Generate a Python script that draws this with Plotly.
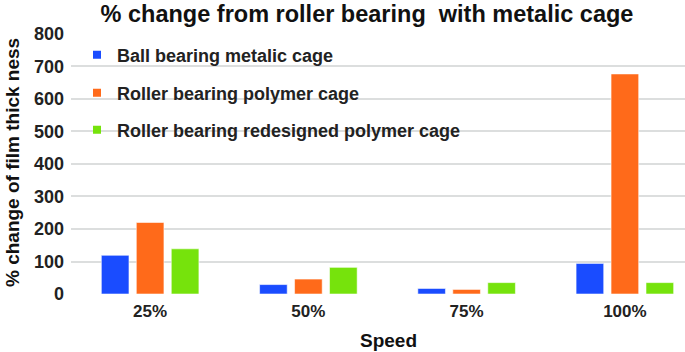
import plotly.graph_objects as go

categories = ["25%", "50%", "75%", "100%"]
ball_metal = [119, 29, 17, 94]
roller_polymer = [220, 46, 14, 677]
roller_redesigned = [139, 82, 35, 35]

series_names = [
    "Ball bearing metalic cage",
    "Roller bearing polymer cage",
    "Roller bearing redesigned polymer cage",
]
colors = ["#1a4cff", "#ff6a1a", "#76e30c"]

W, H = 685, 352
L, R, T, B = 71, 0, 33, 58
pw, ph = W - L - R, H - T - B

FONT = "Liberation Sans, Arial, sans-serif"

fig = go.Figure()
legend_ids = ["legend", "legend2", "legend3"]
for vals, name, col, lg in zip([ball_metal, roller_polymer, roller_redesigned], series_names, colors, legend_ids):
    fig.add_trace(go.Bar(
        x=categories, y=vals, name=name, showlegend=False,
        marker=dict(color=col, line=dict(color="rgba(255,255,255,0.55)", width=1)),
    ))
    fig.add_trace(go.Scatter(
        x=[None], y=[None], mode="markers", name=name, legend=lg,
        marker=dict(symbol="square", size=8, color=col),
    ))

legend_rows_px = [55, 93, 130]
legend_common = dict(
    bgcolor="rgba(0,0,0,0)", borderwidth=0,
    font=dict(family=FONT, size=18, color="#222222", weight="bold"),
    xanchor="left", yanchor="middle", itemwidth=30,
)
lx = (77 - L) / pw
fig.update_layout(
    legend=dict(x=lx, y=(H - B - legend_rows_px[0]) / ph, **legend_common),
    legend2=dict(x=lx, y=(H - B - legend_rows_px[1]) / ph, **legend_common),
    legend3=dict(x=lx, y=(H - B - legend_rows_px[2]) / ph, **legend_common),
)

fig.update_layout(
    width=W, height=H,
    margin=dict(l=L, r=R, t=T, b=B, pad=0),
    paper_bgcolor="white", plot_bgcolor="white",
    barmode="group", bargap=0.337, bargroupgap=0.21,
    font=dict(family=FONT, color="#222222"),
    title=dict(
        text="% change from roller bearing  with metalic cage",
        x=367 / W, xanchor="center", xref="container",
        y=1 - 14 / H, yanchor="middle", yref="container",
        font=dict(family=FONT, size=23.5, color="#111111", weight="bold"),
    ),
    xaxis=dict(
        range=[-0.5, 3.38], showgrid=False, zeroline=False, showline=False,
        ticks="", tickfont=dict(family=FONT, size=17, color="#222222", weight="bold"),
        ticklabelstandoff=5,
    ),
    yaxis=dict(
        range=[0, 803], dtick=100, tick0=0,
        showgrid=True, gridcolor="#dcdede", gridwidth=2,
        zeroline=False, showline=False, ticks="",
        tickfont=dict(family=FONT, size=18, color="#222222", weight="bold"),
        ticklabelstandoff=6,
    ),
    annotations=[
        dict(text="Speed", xref="paper", yref="paper",
             x=(388 - L) / pw, y=(H - B - 340) / ph, xanchor="center", yanchor="middle",
             showarrow=False, font=dict(family=FONT, size=19, color="#111111", weight="bold")),
        dict(text="% change of film thick ness", xref="paper", yref="paper",
             x=(12 - L) / pw, y=(H - B - 163) / ph, xanchor="center", yanchor="middle",
             textangle=-90, showarrow=False,
             font=dict(family=FONT, size=19, color="#111111", weight="bold")),
    ],
)

fig.write_html("out.html", config={"displayModeBar": False},
               post_script="document.body.style.margin='0';")
